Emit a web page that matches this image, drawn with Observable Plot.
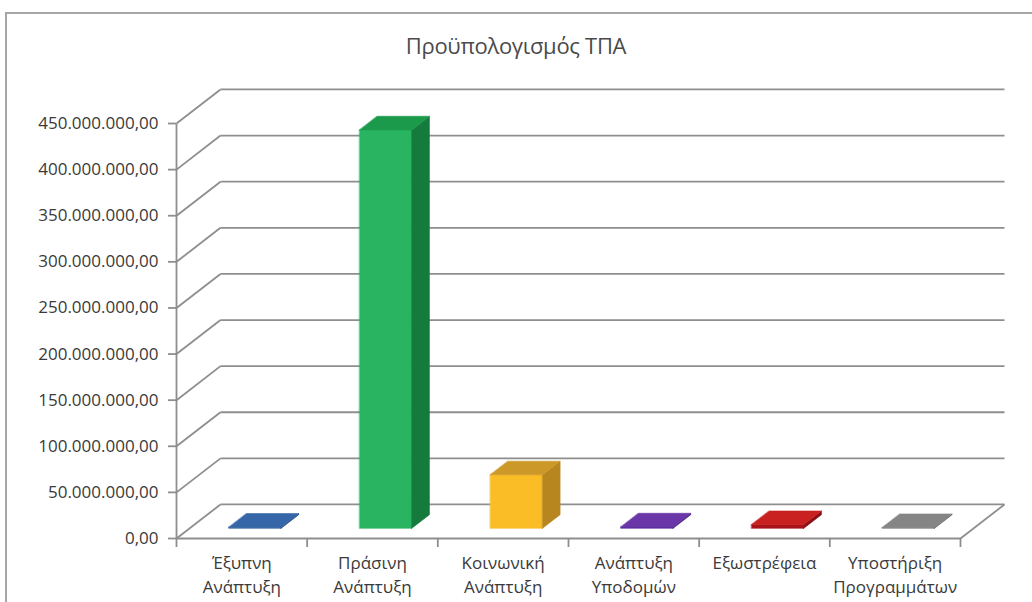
<!DOCTYPE html>
<html>
<head>
<meta charset="utf-8">
<script src="https://cdn.jsdelivr.net/npm/d3@7"></script>
<script src="https://cdn.jsdelivr.net/npm/@observablehq/plot@0.6"></script>
<style>
  html, body { margin: 0; padding: 0; background: #fff; }
  #wrap { position: relative; width: 1032px; height: 602px; overflow: hidden; }
  #frame { position: absolute; left: 5px; top: 12px; width: 1100px; height: 700px; border-left: 2px solid #a6a6a6; border-top: 2px solid #a6a6a6; box-sizing: border-box; }
  #title { position: absolute; left: 0; top: 30px; width: 1032px; text-align: center; font-family: "Open Sans", sans-serif; font-size: 22px; color: #4a4a4a; line-height: 30px; letter-spacing: -0.3px; }
  #chart { position: absolute; left: 0; top: 0; }
</style>
</head>
<body>
<div id="wrap">
  <div id="frame"></div>
  <div id="title">Προϋπολογισμός ΤΠΑ</div>
  <div id="chart"></div>
</div>
<script>
const title = "Προϋπολογισμός ΤΠΑ";
const categories = ["Έξυπνη\nΑνάπτυξη", "Πράσινη\nΑνάπτυξη", "Κοινωνική\nΑνάπτυξη", "Ανάπτυξη\nΥποδομών", "Εξωστρέφεια", "Υποστήριξη\nΠρογραμμάτων"];
const values = [1200000, 432000000, 58000000, 1500000, 4000000, 800000];
const frontColors = ["#2f5f9e", "#29b462", "#fbbd26", "#5f2f9d", "#a8141a", "#7a7a7a"];
const sideColors  = ["#244a7c", "#157b3c", "#b8861e", "#47227a", "#8a0e12", "#5e5e5e"];
const topColors   = ["#3566a8", "#1c9a4b", "#cc9828", "#6a36a8", "#c8211f", "#858585"];
const yTicks = [0, 50000000, 100000000, 150000000, 200000000, 250000000, 300000000, 350000000, 400000000, 450000000];

document.getElementById("title").textContent = title;

// oblique depth offsets (in data units): depth 1 = back wall
const kx = 0.3367;      // category units
const ky = 36900000;    // value units
const d0 = 0.3, d1 = 0.7, half = 0.2;
const P = (u, v, d) => ({x: u + d * kx, y: v + d * ky});

const polys = [];
values.forEach((val, i) => {
  const u0 = i + 0.5 - half, u1 = i + 0.5 + half;
  const add = (id, fill, pts) => pts.forEach(p => polys.push({id, fill, ...p}));
  add(`f${i}`, frontColors[i], [P(u0, 0, d0), P(u1, 0, d0), P(u1, val, d0), P(u0, val, d0)]);
  add(`s${i}`, sideColors[i], [P(u1, 0, d0), P(u1, 0, d1), P(u1, val, d1), P(u1, val, d0)]);
  add(`t${i}`, topColors[i], [P(u0, val, d0), P(u1, val, d0), P(u1, val, d1), P(u0, val, d1)]);
});

const loc = d3.formatLocale({decimal: ",", thousands: ".", grouping: [3], currency: ["", "€"]});
const fmt = loc.format(",.2f");
const grid = "#8e8e8e";
const n = categories.length;

const chart = Plot.plot({
  width: 1032,
  height: 602,
  marginLeft: 176,
  marginRight: 72,
  marginTop: 123,
  marginBottom: 64,
  x: {domain: [0, n], axis: null},
  y: {domain: [0, 450000000], axis: null},
  color: {type: "identity"},
  style: {fontFamily: "Open Sans, sans-serif", background: "transparent"},
  marks: [
    // left wall diagonals
    Plot.link(yTicks, {x1: () => 0, y1: v => v, x2: () => kx, y2: v => v + ky, stroke: grid, strokeWidth: 1.8}),
    // back wall gridlines
    Plot.link(yTicks, {x1: () => kx, y1: v => v + ky, x2: () => n + kx, y2: v => v + ky, stroke: grid, strokeWidth: 1.8}),
    // floor right edge
    Plot.link([0], {x1: () => n, y1: () => 0, x2: () => n + kx, y2: () => ky, stroke: grid, strokeWidth: 1.8}),
    // floor front edge
    Plot.link([0], {x1: () => 0, y1: () => 0, x2: () => n, y2: () => 0, stroke: grid, strokeWidth: 1.8}),
    // y axis line
    Plot.link([0], {x1: () => 0, y1: () => 0, x2: () => 0, y2: () => 450000000, stroke: grid, strokeWidth: 1.8}),
    Plot.axisY({ticks: yTicks, label: null, tickSize: 8, tickPadding: 10, tickFormat: fmt, fontSize: 17, color: "#3a3a3a", stroke: grid, strokeWidth: 1.8}),
    Plot.axisX({ticks: d3.range(n + 1), label: null, tickSize: 9, tickFormat: () => "", stroke: grid, strokeWidth: 1.8}),
    // bars
    Plot.line(polys, {x: "x", y: "y", z: "id", fill: "fill", stroke: "fill", strokeWidth: 0.6, curve: "linear-closed"}),
    // category labels
    Plot.text(categories, {x: (d, i) => i + 0.5, y: () => 0, text: d => d, dy: 14, lineAnchor: "top", lineHeight: 1.38, fontSize: 17, fill: "#3a3a3a"})
  ]
});
document.getElementById("chart").appendChild(chart);
</script>
</body>
</html>
